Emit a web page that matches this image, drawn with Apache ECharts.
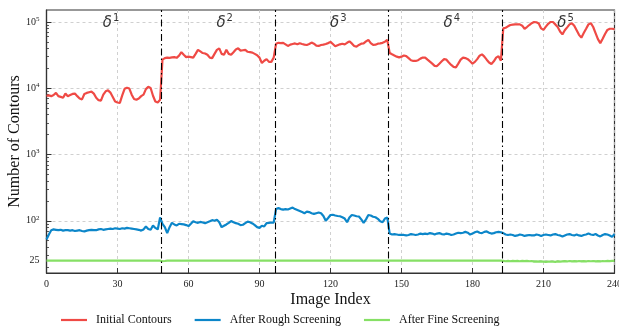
<!DOCTYPE html>
<html>
<head>
<meta charset="utf-8">
<script src="https://cdn.jsdelivr.net/npm/echarts@6/dist/echarts.min.js"></script>
<style>
  html, body { margin: 0; padding: 0; background: #fff; }
  #chart { width: 619px; height: 329px; }
</style>
</head>
<body>
<div id="chart"></div>
<script>
// Contour counts per image (index 0..240), five acquisition segments
const initialContours = [
  7700, 7800, 7600, 7900, 8500, 7600, 7400, 7200, 8300, 7600,
  7900, 8200, 8300, 7600, 7000, 6800, 8200, 8500, 8700, 8900,
  8300, 7200, 6600, 6500, 8000, 9000, 9300, 8600, 7400, 6300,
  6100, 6000, 7800, 9800, 10200, 9900, 8000, 6900, 6700, 7000,
  7600, 8000, 9700, 10500, 10100, 7700, 6300, 6100, 6700,
  27000, 28500, 29000, 28800, 29200, 29500, 28800, 31000, 35000, 32000,
  29500, 30000, 29500, 29000, 33000, 38000, 36000, 34000, 33500, 32000,
  29000, 28500, 33000, 38000, 40000, 33000, 32000, 38000, 33000, 32000,
  35000, 38500, 40000, 37000, 37500, 38000, 35500, 35000, 34500, 33000,
  31500, 29000, 24000, 26000, 27500, 25000, 25000, 29000,
  47000, 48500, 48000, 48500, 46000, 43500, 45500, 46500, 47500, 46000,
  47800, 46500, 45500, 45000, 46500, 48900, 47000, 44000, 43500, 45000,
  45500, 46500, 48000, 50000, 46500, 43000, 44500, 46000, 47000, 46000,
  48500, 51000, 47500, 43500, 42500, 45000, 47000, 47500, 51000, 53600,
  48000, 45000, 45500, 47000, 47500, 48500, 50500, 53600,
  34000, 32500, 31200, 30000, 29200, 30000, 31200, 30500, 28500, 26500,
  25800, 25800, 26500, 28000, 29000, 29000, 27000, 25200, 23500, 21800,
  21600, 23500, 25500, 27500, 27000, 24500, 22500, 21000, 20700, 23500,
  27000, 29000, 28500, 27500, 25500, 23500, 25000, 27500, 31000, 32500,
  30000, 27000, 24500, 23200, 25500, 29000, 30500, 26000,
  80000, 82000, 86000, 90000, 91000, 92000, 92000, 92000, 88000, 79000,
  84000, 90000, 96000, 100000, 99000, 95000, 80000, 76000, 85000, 94000,
  100000, 100000, 92000, 84000, 72000, 65000, 75000, 83000, 92000, 96000,
  88000, 75000, 64000, 58000, 68000, 79000, 92000, 96000, 84000, 68000,
  55000, 48000, 56000, 66000, 76000, 79000, 79000, 78000
];

const roughScreening = [
  52, 62, 72, 74, 73, 72, 73, 71, 72, 72,
  71, 72, 70, 71, 72, 70, 69, 71, 72, 73,
  72, 72, 74, 75, 73, 74, 75, 76, 75, 77,
  76, 75, 77, 76, 78, 77, 76, 75, 74, 73,
  71, 74, 82, 75, 73, 85, 78, 74, 112,
  90, 80, 65, 80, 93, 88, 85, 90, 89, 88,
  86, 83, 90, 98, 95, 93, 96, 94, 92, 95,
  98, 102, 100, 104, 95, 80, 84, 88, 93, 99,
  95, 92, 90, 86, 87, 92, 97, 95, 91, 86,
  80, 78, 84, 82, 92, 93, 94, 94,
  150, 155, 150, 147, 150, 148, 153, 158, 150, 145,
  140, 135, 130, 137, 135, 130, 127, 130, 133, 130,
  118, 100, 110, 122, 123, 120, 118, 117, 113, 108,
  95, 112, 122, 120, 117, 116, 105, 93, 105, 122,
  120, 115, 113, 107, 98, 95, 108, 112,
  64, 62, 63, 62, 61, 61, 61, 60, 61, 63,
  62, 61, 62, 64, 63, 64, 63, 65, 64, 62,
  64, 65, 63, 62, 64, 63, 61, 62, 64, 66,
  65, 66, 68, 66, 62, 64, 67, 69, 66, 65,
  68, 69, 66, 64, 65, 67, 68, 67,
  65, 62, 61, 62, 61, 59, 60, 62, 61, 59,
  60, 61, 60, 60, 62, 61, 59, 61, 62, 61,
  60, 62, 63, 61, 60, 58, 60, 62, 63, 61,
  60, 62, 60, 59, 61, 62, 64, 62, 61, 63,
  60, 58, 61, 63, 62, 60, 57, 63
];

const fineScreening = [
  25, 25, 25, 25, 25, 25, 25, 25, 25, 25,
  25, 25, 25, 25, 25, 25, 25, 25, 25, 25,
  25, 25, 25, 25, 25, 25, 25, 25, 25, 25,
  25, 25, 25, 25, 25, 25, 25, 25, 25, 25,
  25, 25, 25, 25, 25, 25, 25, 25, 25,
  24.5, 24.7, 25, 25, 25, 25, 25, 25, 25, 25,
  25, 25, 25, 25, 25, 25, 25, 25, 25, 25,
  25, 25, 25, 25, 25, 25, 25, 25, 25, 25,
  25, 25, 25, 25, 25, 25, 25, 25, 25, 25,
  25, 25, 25, 25, 25, 25, 25, 25,
  25, 25, 25, 25, 25, 25, 25, 25, 25, 25,
  25, 25, 25, 25, 25, 25, 25, 25, 25, 25,
  25, 25, 25, 25, 25, 25, 25, 25, 25, 25,
  25, 25, 25, 25, 25, 25, 25, 25, 25, 25,
  25, 25, 25, 25, 25, 25, 25, 25,
  25, 25, 25, 25, 25, 25, 25, 25, 25, 25,
  25, 25, 25, 25, 25, 25, 25, 25, 25, 25,
  25, 25, 25, 25, 25, 25, 25, 25, 25, 25,
  25, 25, 25, 25, 25, 25, 25, 25, 25, 25,
  25, 25, 25, 25, 25, 25, 25, 25,
  24.8, 24.5, 24.8, 24.5, 24.8, 24.6, 24.8, 24.5, 24.8, 24.6,
  24.8, 24.5, 24.7, 24.2, 24.3, 24.1, 24.3, 24.2, 24.0, 24.2,
  24.1, 24.2, 24.0, 24.3, 24.2, 24.4, 24.6, 24.3, 24.7, 24.4,
  24.6, 24.3, 24.7, 24.4, 24.6, 24.3, 24.7, 24.5, 24.7, 24.4,
  24.6, 24.3, 24.7, 24.5, 24.8, 24.6, 24.8, 24.8
];

// Segment boundaries and segment label anchors
const segmentBounds = [48.5, 96.5, 144.5, 192.5];
const segmentStarts = [24, 72, 120, 168, 216];
const segmentNames = ['1', '2', '3', '4', '5'];

// Axis ticks
const xTicks = [0, 30, 60, 90, 120, 150, 180, 210, 240];
const yMajorTicks = [25, 100, 1000, 10000, 100000];
const yMinorTicks = [
  20, 30, 40, 50, 60, 70, 80, 90,
  200, 300, 400, 500, 600, 700, 800, 900,
  2000, 3000, 4000, 5000, 6000, 7000, 8000, 9000,
  20000, 30000, 40000, 50000, 60000, 70000, 80000, 90000
];

const serif = '"Liberation Serif", "Times New Roman", serif';
const toPairs = arr => arr.map((v, i) => [i, v]);

const chart = echarts.init(document.getElementById('chart'), null, { renderer: 'canvas' });

const yMin = 16.27, yMax = 151700;
const gridLine = { show: true, lineStyle: { color: '#c4c4c4', width: 0.8, type: [3, 3] } };

chart.setOption({
  animation: false,
  backgroundColor: '#fff',
  grid: {
    left: 46.5, right: 4.5, top: 10, bottom: 56,
    outerBoundsMode: 'none', containLabel: false,
    show: true, borderColor: '#333', borderWidth: 1.2, backgroundColor: 'transparent'
  },
  xAxis: {
    type: 'value', min: 0, max: 240, interval: 30,
    name: 'Image Index', nameLocation: 'middle', nameGap: 19, nameMoveOverlap: false,
    nameTextStyle: { fontFamily: serif, fontSize: 16, color: '#111' },
    axisLine: { show: true, lineStyle: { color: '#333', width: 1.2 } },
    axisTick: { show: true, inside: true, length: 5, lineStyle: { color: '#333' } },
    axisLabel: { fontFamily: serif, fontSize: 10, color: '#222', margin: 6 },
    splitLine: gridLine
  },
  yAxis: [
    {
      type: 'log', logBase: 10, min: yMin, max: yMax,
      name: 'Number of Contours', nameLocation: 'middle', nameGap: 24, nameMoveOverlap: false,
      nameTextStyle: { fontFamily: serif, fontSize: 16, color: '#111' },
      axisLine: { show: true, lineStyle: { color: '#333', width: 1.2 } },
      axisTick: { show: true, inside: true, length: 5, customValues: yMajorTicks, lineStyle: { color: '#333' } },
      axisLabel: {
        customValues: yMajorTicks,
        fontFamily: serif, fontSize: 10, color: '#222', margin: 7,
        formatter: v => (v < 50 ? String(Math.round(v)) : '10{sup|' + Math.round(Math.log10(v)) + '}'),
        rich: { sup: { fontFamily: serif, fontSize: 7, color: '#222', padding: [0, 0, 6, 0] } }
      },
      splitLine: gridLine
    },
    {
      type: 'log', logBase: 10, min: yMin, max: yMax, position: 'left',
      axisLine: { show: false },
      axisTick: { show: true, inside: true, length: 2.5, customValues: yMinorTicks, lineStyle: { color: '#333', width: 0.8 } },
      axisLabel: { show: false },
      splitLine: { show: false }
    }
  ],
  legend: {
    bottom: -2, left: 56,
    icon: 'rect', itemWidth: 26, itemHeight: 2.2, itemGap: 23,
    textStyle: { fontFamily: serif, fontSize: 12, color: '#111', padding: [0, 0, 0, 4] },
    data: ['Initial Contours', 'After Rough Screening', 'After Fine Screening']
  },
  series: [
    {
      name: 'Initial Contours', type: 'line', data: toPairs(initialContours),
      symbol: 'none', lineStyle: { color: '#EF4A45', width: 2.2 }, itemStyle: { color: '#EF4A45' },
      z: 3,
      markLine: {
        silent: true, symbol: 'none', label: { show: false },
        lineStyle: { color: '#000', width: 1.1, type: [7, 3, 1.5, 3] },
        data: segmentBounds.map(x => ({ xAxis: x }))
      }
    },
    {
      name: 'After Rough Screening', type: 'line', data: toPairs(roughScreening),
      symbol: 'none', lineStyle: { color: '#0C86C9', width: 2.2 }, itemStyle: { color: '#0C86C9' }, z: 3
    },
    {
      name: 'After Fine Screening', type: 'line', data: toPairs(fineScreening),
      symbol: 'none', lineStyle: { color: '#86E065', width: 2.2 }, itemStyle: { color: '#86E065' }, z: 3
    },
    {
      name: 'segments', type: 'scatter', silent: true, symbolSize: 1,
      itemStyle: { color: 'rgba(0,0,0,0)' },
      data: segmentStarts.map((x, i) => ({ value: [x, 90000], name: segmentNames[i] })),
      label: {
        show: true, position: [0, 0], align: 'left', verticalAlign: 'bottom', offset: [0, 8],
        formatter: p => '{d|δ}{s|' + p.name + '}',
        rich: {
          d: { fontFamily: '"DejaVu Sans"', fontStyle: 'italic', fontSize: 15, color: '#000' },
          s: { fontFamily: '"DejaVu Sans"', fontSize: 10, color: '#000', padding: [0, 0, 9, 1] }
        }
      },
      z: 5
    }
  ]
});
</script>
</body>
</html>
